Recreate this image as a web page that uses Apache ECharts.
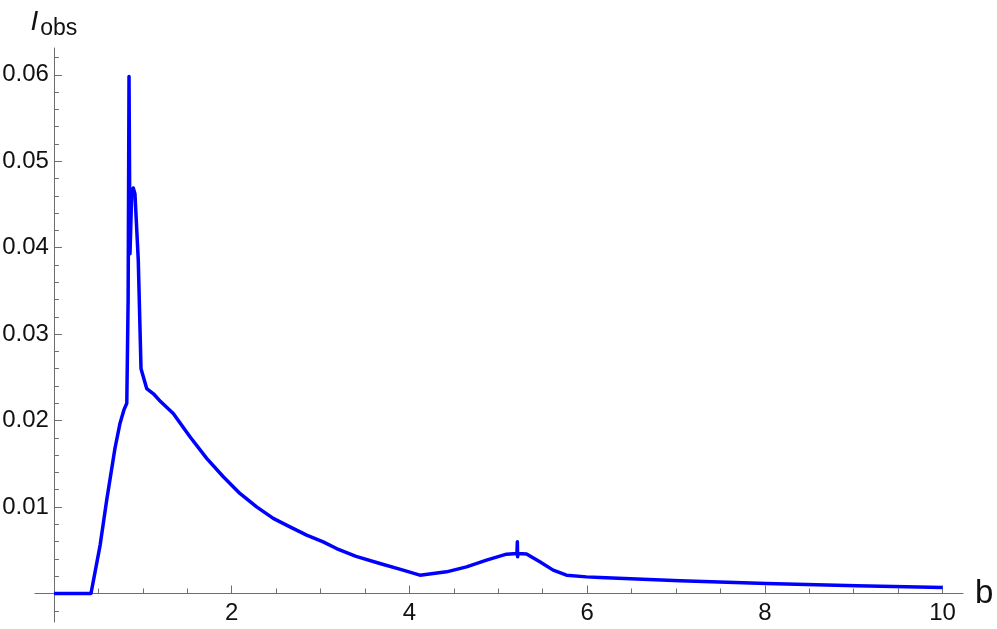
<!DOCTYPE html>
<html>
<head>
<meta charset="utf-8">
<script src="https://cdn.jsdelivr.net/npm/echarts@6/dist/echarts.min.js"></script>
<style>
html,body{margin:0;padding:0;background:#fff;}
#chart{width:997px;height:629px;}
</style>
</head>
<body>
<div id="chart"></div>
<script>
// b values (x) and I_obs values (y)
const bValues = [0, 0.417, 0.52, 0.594, 0.687, 0.744, 0.79, 0.82, 0.835, 0.845, 0.856, 0.875, 0.893, 0.912, 0.949, 0.98, 0.999, 1.044, 1.12, 1.2, 1.343, 1.531, 1.719, 1.906, 2.093, 2.281, 2.468, 2.656, 2.844, 3.03, 3.18, 3.4, 3.668, 3.9, 4.118, 4.418, 4.643, 4.868, 5.093, 5.21, 5.215, 5.218, 5.222, 5.318, 5.468, 5.618, 5.768, 5.993, 6.143, 7.043, 8.018, 9.03, 10];
const iObsValues = [0, 0, 0.0056, 0.0108, 0.0168, 0.0197, 0.0213, 0.0220, 0.034, 0.0598, 0.0393, 0.0462, 0.0469, 0.0462, 0.0386, 0.0260, 0.0258, 0.0237, 0.0231, 0.0222, 0.02083, 0.01813, 0.01563, 0.0135, 0.01157, 0.01002, 0.00868, 0.00771, 0.00675, 0.00597, 0.0052, 0.0043, 0.00347, 0.00278, 0.00212, 0.0025, 0.00308, 0.00385, 0.00455, 0.00462, 0.00597, 0.00425, 0.00462, 0.00458, 0.00366, 0.0027, 0.00212, 0.00192, 0.00185, 0.00146, 0.00116, 0.00088, 0.0007];

const xMajorTicks = [2, 4, 6, 8, 10];
const xMinorTicks = [0.5, 1, 1.5, 2.5, 3, 3.5, 4.5, 5, 5.5, 6.5, 7, 7.5, 8.5, 9, 9.5];
const yMajorTicks = [0.01, 0.02, 0.03, 0.04, 0.05, 0.06];
const yMinorTicks = [-0.002, 0.002, 0.004, 0.006, 0.008, 0.012, 0.014, 0.016, 0.018, 0.022, 0.024, 0.026, 0.028, 0.032, 0.034, 0.036, 0.038, 0.042, 0.044, 0.046, 0.048, 0.052, 0.054, 0.056, 0.058, 0.062];

const X_MIN = -0.213, X_MAX = 10.23;
const Y_MIN = -0.0033, Y_MAX = 0.0631;

const axisColor = '#6e6e6e';
const labelFont = 'Liberation Sans, Arial, sans-serif';

const data = bValues.map((b, i) => [b, iObsValues[i]]);

// pixel layout of the full-extent grid
const G = {left: 35, right: 34, top: 48, bottom: 7};
const W = 997, H = 629;
const pxPerX = (W - G.left - G.right) / (X_MAX - X_MIN);
const pxPerY = (H - G.top - G.bottom) / (Y_MAX - Y_MIN);
const zeroX = G.left + (0 - X_MIN) * pxPerX;
const zeroYFromBottom = G.bottom + (0 - Y_MIN) * pxPerY;

const chart = echarts.init(document.getElementById('chart'), null, {renderer: 'canvas'});
chart.setOption({
  animation: false,
  backgroundColor: '#ffffff',
  grid: [
    {left: G.left, right: G.right, top: G.top, bottom: G.bottom, containLabel: false, outerBoundsMode: 'none'},
    {left: zeroX, right: G.right, top: G.top, bottom: zeroYFromBottom, containLabel: false, outerBoundsMode: 'none'}
  ],
  xAxis: [
    {
      gridIndex: 0, type: 'value', min: X_MIN, max: X_MAX, position: 'bottom',
      axisLine: {show: true, onZero: true, onZeroAxisIndex: 0, lineStyle: {color: axisColor, width: 1}},
      axisTick: {show: true, inside: true, length: 8, customValues: xMajorTicks, lineStyle: {color: axisColor}},
      axisLabel: {show: false},
      splitLine: {show: false},
      name: 'b', nameLocation: 'end', nameGap: 12,
      nameTextStyle: {fontSize: 33, color: '#111', fontFamily: labelFont, verticalAlign: 'middle', padding: [0, 0, 6, 0]}
    },
    {
      gridIndex: 0, type: 'value', min: X_MIN, max: X_MAX, position: 'bottom',
      axisLine: {show: false, onZero: true, onZeroAxisIndex: 0},
      axisTick: {show: true, inside: true, length: 5, customValues: xMinorTicks, lineStyle: {color: axisColor}},
      axisLabel: {show: false},
      splitLine: {show: false}
    },
    {
      gridIndex: 1, type: 'value', min: 0, max: X_MAX, position: 'bottom',
      axisLine: {show: false, onZero: false},
      axisTick: {show: false},
      axisLabel: {show: true, customValues: xMajorTicks, margin: 8, fontSize: 24, color: '#111', fontFamily: labelFont},
      splitLine: {show: false}
    }
  ],
  yAxis: [
    {
      gridIndex: 0, type: 'value', min: Y_MIN, max: Y_MAX, position: 'left',
      axisLine: {show: true, onZero: true, onZeroAxisIndex: 0, lineStyle: {color: axisColor, width: 1}},
      axisTick: {show: true, inside: true, length: 8, customValues: yMajorTicks, lineStyle: {color: axisColor}},
      axisLabel: {show: false},
      splitLine: {show: false},
      name: '{i|I}{s|obs}', nameLocation: 'end', nameGap: 10,
      nameTextStyle: {
        fontFamily: labelFont, color: '#111',
        rich: {
          i: {fontSize: 28, fontStyle: 'italic', fontFamily: labelFont, color: '#111', verticalAlign: 'top', lineHeight: 30},
          s: {fontSize: 23, fontFamily: labelFont, color: '#111', verticalAlign: 'top', lineHeight: 30, padding: [9, 0, 0, 2]}
        }
      }
    },
    {
      gridIndex: 0, type: 'value', min: Y_MIN, max: Y_MAX, position: 'left',
      axisLine: {show: false, onZero: true, onZeroAxisIndex: 0},
      axisTick: {show: true, inside: true, length: 5, customValues: yMinorTicks, lineStyle: {color: axisColor}},
      axisLabel: {show: false},
      splitLine: {show: false}
    },
    {
      gridIndex: 1, type: 'value', min: 0, max: Y_MAX, position: 'left',
      axisLine: {show: false, onZero: false},
      axisTick: {show: false},
      axisLabel: {show: true, customValues: yMajorTicks, margin: 5, fontSize: 24, color: '#111', fontFamily: labelFont,
        formatter: v => v.toFixed(2)},
      splitLine: {show: false}
    }
  ],
  series: [{
    type: 'line', xAxisIndex: 0, yAxisIndex: 0,
    data: data, showSymbol: false, symbol: 'none', smooth: false,
    lineStyle: {color: '#0000ff', width: 3.5, join: 'round'},
    clip: false
  }]
});
</script>
</body>
</html>
